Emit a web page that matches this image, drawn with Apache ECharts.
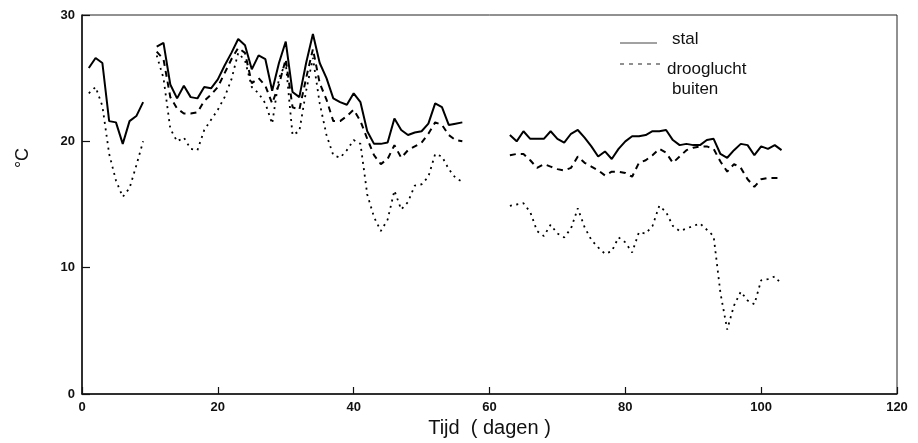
<!DOCTYPE html>
<html>
<head>
<meta charset="utf-8">
<script src="https://cdn.jsdelivr.net/npm/echarts@6/dist/echarts.min.js"></script>
<style>
  html, body { margin: 0; padding: 0; background: #fff; }
  #chart-container { width: 918px; height: 443px; }
</style>
</head>
<body>
<div id="chart-container"></div>
<script>
// measurement days: each segment starts at this day, one value per day
var start1 = 1;
var start2 = 11;
var start3 = 63;

// stal (solid)
var stal1 = [25.8, 26.6, 26.2, 21.6, 21.5, 19.8, 21.6, 22.0, 23.1];
var stal2 = [27.5, 27.8, 24.5, 23.4, 24.4, 23.5, 23.4, 24.3, 24.2, 24.9,
             26.0, 27.0, 28.1, 27.6, 25.7, 26.8, 26.5, 24.0, 26.2, 27.9,
             23.9, 23.5, 26.2, 28.5, 26.2, 25.0, 23.4, 23.1, 22.9, 23.8,
             23.1, 20.8, 19.8, 19.8, 19.9, 21.8, 20.9, 20.5, 20.7, 20.8,
             21.4, 23.0, 22.7, 21.3, 21.4, 21.5];
var stal3 = [20.5, 20.0, 20.8, 20.2, 20.2, 20.2, 20.8, 20.2, 19.9, 20.6,
             20.9, 20.3, 19.6, 18.8, 19.2, 18.6, 19.4, 20.0, 20.4, 20.4,
             20.5, 20.8, 20.8, 20.9, 20.1, 19.7, 19.8, 19.7, 19.7, 20.1,
             20.2, 19.0, 18.7, 19.3, 19.8, 19.7, 18.9, 19.6, 19.4, 19.7,
             19.3];

// drooglucht (dashed)
var droog2 = [27.1, 26.5, 23.5, 22.6, 22.2, 22.2, 22.3, 23.2, 23.7, 24.3,
              25.4, 26.5, 27.4, 27.0, 24.6, 25.0, 24.4, 23.0, 24.5, 26.5,
              22.7, 22.5, 25.0, 27.3, 24.6, 23.3, 21.6, 21.6, 22.0, 22.5,
              21.6, 20.2, 18.9, 18.2, 18.6, 19.7, 18.7, 19.3, 19.6, 19.9,
              20.6, 21.5, 21.3, 20.5, 20.1, 20.0];
var droog3 = [18.9, 19.0, 19.0, 18.5, 17.9, 18.2, 18.0, 17.8, 17.7, 17.9,
              18.8, 18.3, 18.0, 17.7, 17.3, 17.6, 17.6, 17.5, 17.2, 18.3,
              18.5, 18.9, 19.4, 19.1, 18.3, 18.8, 19.3, 19.5, 19.6, 19.6,
              19.4, 18.4, 17.6, 18.2, 17.9, 17.0, 16.4, 17.0, 17.1, 17.1,
              17.1];

// buiten (dotted)
var buiten1 = [23.8, 24.3, 22.8, 19.0, 16.9, 15.6, 16.3, 18.1, 20.0];
var buiten2 = [26.8, 25.0, 21.0, 20.0, 20.3, 19.4, 19.3, 20.9, 21.7, 22.5,
               23.5, 24.9, 27.0, 26.4, 24.3, 23.8, 23.0, 21.4, 25.0, 26.2,
               20.5, 20.8, 24.0, 26.6, 23.0, 20.5, 18.9, 18.7, 19.3, 20.1,
               19.8, 15.8, 14.0, 12.9, 13.8, 16.1, 14.6, 15.2, 16.5, 16.6,
               17.2, 19.0, 18.8, 17.8, 17.1, 16.8];
var buiten3 = [14.9, 15.0, 15.1, 14.4, 12.9, 12.5, 13.4, 12.7, 12.4, 13.1,
               14.7, 13.2, 12.2, 11.6, 11.1, 11.3, 12.4, 12.0, 11.2, 12.8,
               12.7, 13.3, 14.9, 14.4, 13.3, 12.9, 13.1, 13.3, 13.5, 13.0,
               12.5, 8.0, 5.1, 7.0, 8.1, 7.4, 7.1, 9.0, 9.1, 9.3,
               8.7];

var seriesNames = ["stal", "drooglucht", "buiten"];
var xTicks = [0, 20, 40, 60, 80, 100, 120];
var yTicks = [0, 10, 20, 30];

// join segments into [day, value] pairs, with a null between segments for the gaps
function build(segments) {
  var out = [];
  segments.forEach(function (seg) {
    if (out.length) out.push([seg.start - 1, null]);
    seg.values.forEach(function (v, i) {
      out.push([seg.start + i, v]);
    });
  });
  return out;
}

var stalData = build([{ start: start1, values: stal1 }, { start: start2, values: stal2 }, { start: start3, values: stal3 }]);
var droogData = build([{ start: start2, values: droog2 }, { start: start3, values: droog3 }]);
var buitenData = build([{ start: start1, values: buiten1 }, { start: start2, values: buiten2 }, { start: start3, values: buiten3 }]);

var chartDom = document.getElementById("chart-container");
var myChart = echarts.init(chartDom);

var tickFont = { color: "#111", fontSize: 13, fontWeight: "bold", fontFamily: "Liberation Sans" };

var option = {
  animation: false,
  grid: {
    left: 82, right: 21, top: 15, bottom: 49,
    outerBoundsMode: "none",
    show: true, borderColor: "#222", borderWidth: 1
  },
  xAxis: {
    type: "value",
    min: xTicks[0], max: xTicks[xTicks.length - 1], interval: 20,
    name: "Tijd  ( dagen )",
    nameLocation: "middle",
    nameGap: 21,
    nameTextStyle: { fontSize: 20, color: "#111", fontFamily: "Liberation Sans" },
    axisLine: { lineStyle: { color: "#111", width: 1.5 } },
    axisTick: { inside: true, length: 7, lineStyle: { color: "#111", width: 1.2 } },
    axisLabel: Object.assign({ margin: 7 }, tickFont),
    splitLine: { show: false }
  },
  yAxis: {
    type: "value",
    min: yTicks[0], max: yTicks[yTicks.length - 1], interval: 10,
    axisLine: { show: true, lineStyle: { color: "#111", width: 1.5 } },
    axisTick: { show: true, inside: true, length: 8, lineStyle: { color: "#111", width: 1.2 } },
    axisLabel: Object.assign({ margin: 7 }, tickFont),
    splitLine: { show: false }
  },
  graphic: [
    { type: "text", x: 23, y: 158, rotation: Math.PI / 2,
      style: { text: "°C", fontSize: 18, fill: "#111", fontFamily: "Liberation Sans",
               align: "center", verticalAlign: "middle" } },
    { type: "line", shape: { x1: 620, y1: 43, x2: 657, y2: 43 },
      style: { stroke: "#444", lineWidth: 1 } },
    { type: "text", left: 672, top: 31,
      style: { text: seriesNames[0], fontSize: 17, fill: "#111", fontFamily: "Liberation Sans" } },
    { type: "line", shape: { x1: 620, y1: 64, x2: 662, y2: 64 },
      style: { stroke: "#222", lineWidth: 1.2, lineDash: [4, 5] } },
    { type: "text", left: 667, top: 61,
      style: { text: seriesNames[1], fontSize: 17, fill: "#111", fontFamily: "Liberation Sans" } },
    { type: "text", left: 672, top: 81,
      style: { text: seriesNames[2], fontSize: 17, fill: "#111", fontFamily: "Liberation Sans" } }
  ],
  series: [
    {
      name: seriesNames[0], type: "line", data: stalData,
      showSymbol: false, connectNulls: false,
      lineStyle: { color: "#000", width: 2 }
    },
    {
      name: seriesNames[1], type: "line", data: droogData,
      showSymbol: false, connectNulls: false,
      lineStyle: { color: "#000", width: 2, type: [6, 5] }
    },
    {
      name: seriesNames[2], type: "line", data: buitenData,
      showSymbol: false, connectNulls: false,
      lineStyle: { color: "#000", width: 1.8, type: [2, 4.5] }
    }
  ]
};

myChart.setOption(option);
</script>
</body>
</html>
